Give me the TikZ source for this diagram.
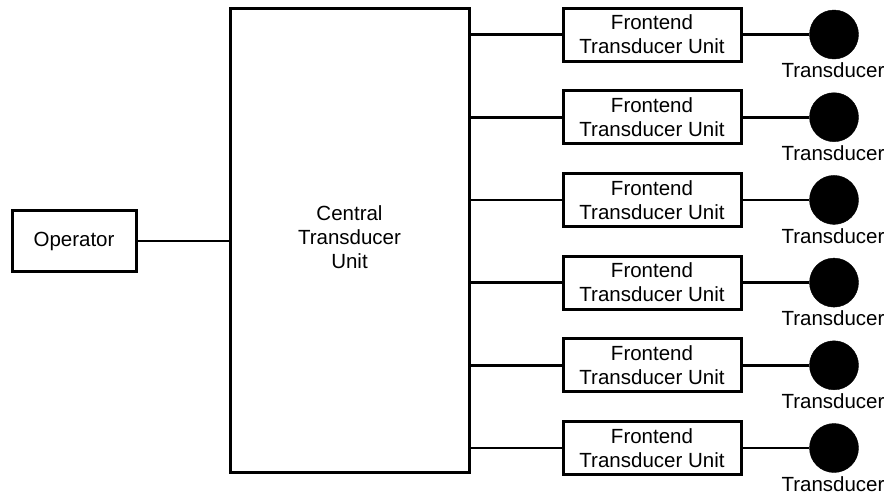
\documentclass[tikz,border=0pt]{standalone}
\usepackage{fontspec}
\setmainfont{Liberation Sans}
\begin{document}
\begin{tikzpicture}[x=1pt,y=-1pt,
  box/.style={draw=black, line width=3pt, fill=white, inner sep=0pt, align=center,
    font=\fontsize{20.5}{24}\selectfont},
  wire/.style={draw=black, line width=2.6pt},
  xdcr/.style={circle, fill=black, draw=black, minimum size=49pt, inner sep=0pt},
  lbl/.style={inner sep=0pt, font=\fontsize{20.5}{24}\selectfont}]
\useasboundingbox (0,0) rectangle (888,493);

% operator and central unit
\node[box, minimum width=124pt, minimum height=61pt] (op) at (74,241) {Operator};
\node[box, minimum width=239pt, minimum height=464pt] (cu) at (349.5,240)
  {\raisebox{4pt}{\begin{tabular}{@{}c@{}}Central\\Transducer\\Unit\end{tabular}}};
\draw[wire] (op.east) -- (op.east -| cu.west);

% six frontend units, each with its transducer
\foreach \i in {1,...,6} {
  \pgfmathsetmacro{\yy}{34.5 + (\i-1)*82.7}
  \node[box, minimum width=178pt, minimum height=53pt] (fe\i) at (652,\yy)
    {Frontend\\Transducer Unit};
  \node[xdcr] (td\i) at (834,\yy) {};
  \node[lbl] (tl\i) at (833,\yy+36) {Transducer};
  \draw[wire] (cu.east |- fe\i.west) -- (fe\i.west);
  \draw[wire] (fe\i.east) -- (td\i.west);
}
\end{tikzpicture}
\end{document}
